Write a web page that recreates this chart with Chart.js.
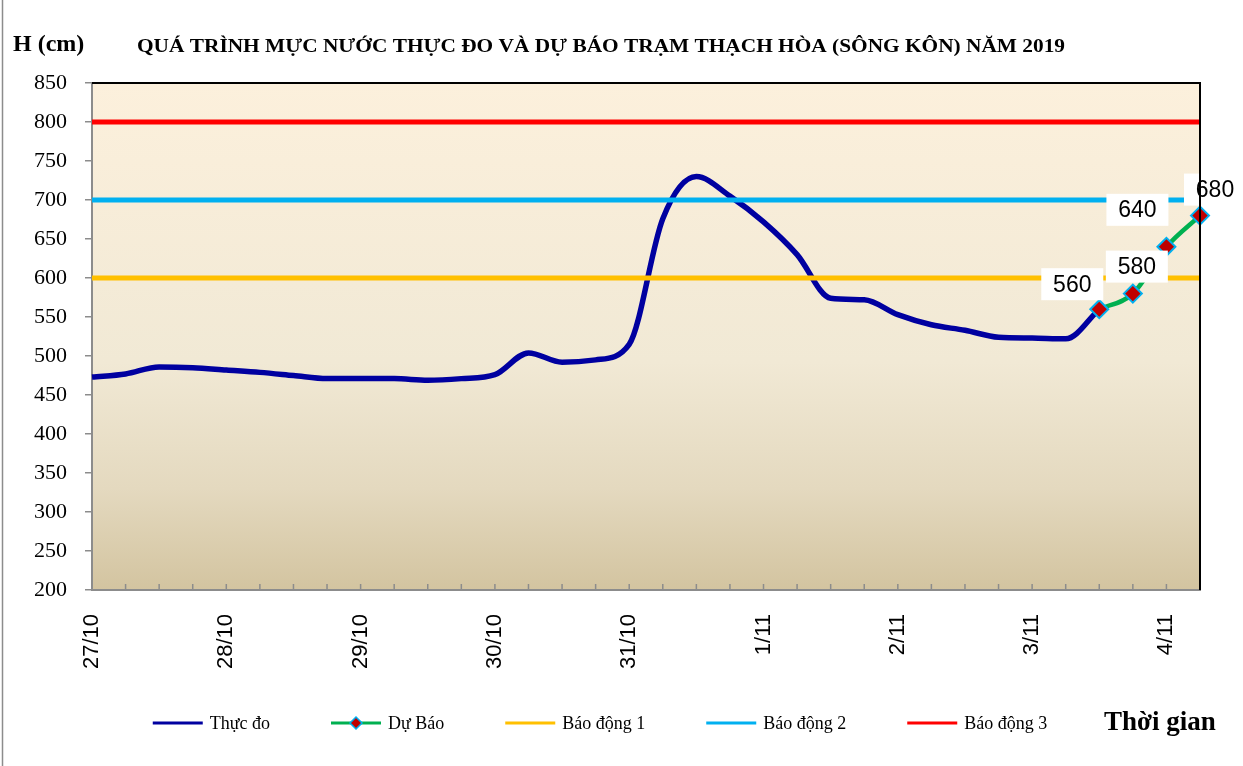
<!DOCTYPE html>
<html>
<head>
<meta charset="utf-8">
<script src="https://cdn.jsdelivr.net/npm/chart.js@4.4.0/dist/chart.umd.min.js"></script>
<style>
  html, body { margin: 0; padding: 0; background: #fff; }
  #wrap { position: relative; width: 1243px; height: 766px; }
</style>
</head>
<body>
<div id="wrap"><canvas id="mucNuocChart" width="1243" height="766"></canvas></div>
<script>
// 6-hourly time steps, 27/10 00h -> 4/11 06h
const timeLabels = [
  "27/10 0h", "27/10 6h", "27/10 12h", "27/10 18h",
  "28/10 0h", "28/10 6h", "28/10 12h", "28/10 18h",
  "29/10 0h", "29/10 6h", "29/10 12h", "29/10 18h",
  "30/10 0h", "30/10 6h", "30/10 12h", "30/10 18h",
  "31/10 0h", "31/10 6h", "31/10 12h", "31/10 18h",
  "1/11 0h", "1/11 6h", "1/11 12h", "1/11 18h",
  "2/11 0h", "2/11 6h", "2/11 12h", "2/11 18h",
  "3/11 0h", "3/11 6h", "3/11 12h", "3/11 18h",
  "4/11 0h", "4/11 6h"
];

const thucDo = [
  473, 477, 486, 485, 482, 479, 475, 471,
  471, 471, 469, 471, 476, 504, 492, 495,
  515, 676, 730, 705, 672, 630, 574, 572,
  553, 540, 533, 524, 523, 522, 560, null,
  null, null
];

const duBao = [
  null, null, null, null, null, null, null, null,
  null, null, null, null, null, null, null, null,
  null, null, null, null, null, null, null, null,
  null, null, null, null, null, null, 560, 580,
  640, 680
];

const baoDong1 = 600;
const baoDong2 = 700;
const baoDong3 = 800;

const yTicks = { min: 200, max: 850, step: 50 };

const firstLabel = timeLabels[0];
const lastLabel = timeLabels[timeLabels.length - 1];

const plotBackground = {
  id: "plotBackground",
  beforeDraw(chart) {
    const { ctx, chartArea: a, width, height } = chart;
    ctx.save();
    ctx.fillStyle = "#ffffff";
    ctx.fillRect(0, 0, width, height);
    let grad = ctx.createLinearGradient(0, a.top, 0, a.bottom);
    grad.addColorStop(0, "#FCF0DC");
    grad.addColorStop(0.55, "#F1E9D5");
    grad.addColorStop(0.8, "#E4D9BF");
    grad.addColorStop(1, "#D3C4A0");
    ctx.fillStyle = grad;
    ctx.fillRect(a.left, a.top, a.right - a.left, a.bottom - a.top);
    // outer frame (left edge visible)
    ctx.strokeStyle = "#8c8c8c";
    ctx.lineWidth = 1.5;
    ctx.beginPath();
    ctx.moveTo(2.5, 0);
    ctx.lineTo(2.5, height);
    ctx.stroke();
    ctx.restore();
  },
  afterDraw(chart) {
    const { ctx, chartArea: a, scales } = chart;
    ctx.save();
    // black top & right border of plot area
    ctx.strokeStyle = "#000000";
    ctx.lineWidth = 2;
    ctx.beginPath();
    ctx.moveTo(a.left, a.top);
    ctx.lineTo(a.right, a.top);
    ctx.lineTo(a.right, a.bottom);
    ctx.stroke();
    // x tick marks pointing inside
    ctx.strokeStyle = "#8c8c8c";
    ctx.lineWidth = 1.5;
    ctx.beginPath();
    for (let i = 1; i < timeLabels.length - 1; i++) {
      let x = scales.x.getPixelForValue(i);
      ctx.moveTo(x, a.bottom);
      ctx.lineTo(x, a.bottom - 6);
    }
    ctx.stroke();
    ctx.restore();
  },
};

const valueLabels = {
  id: "valueLabels",
  afterDatasetsDraw(chart, args, opts) {
    const { ctx } = chart;
    const meta = chart.getDatasetMeta(opts.datasetIndex);
    ctx.save();
    ctx.font = '23px "Liberation Sans"';
    ctx.textAlign = "center";
    ctx.textBaseline = "middle";
    let k = 0;
    meta.data.forEach((pt, i) => {
      let v = chart.data.datasets[opts.datasetIndex].data[i];
      if (v === null) return;
      let off = opts.offsets[k++] || [0, -25];
      let cx = pt.x + off[0];
      let cy = pt.y + off[1];
      ctx.fillStyle = "#ffffff";
      ctx.fillRect(cx - 31, cy - 16, 62, 32);
      ctx.fillStyle = "#000000";
      ctx.fillText(String(v), cx, cy + 1);
    });
    ctx.restore();
  },
};

const legendSymbol = (ctx, ds, x, y) => {
  ctx.strokeStyle = ds.borderColor;
  ctx.lineWidth = 3;
  ctx.beginPath();
  ctx.moveTo(x, y);
  ctx.lineTo(x + 50, y);
  ctx.stroke();
  if (ds.pointRadius > 0) {
    let r = 6;
    let cx = x + 25;
    ctx.beginPath();
    ctx.moveTo(cx, y - r);
    ctx.lineTo(cx + r, y);
    ctx.lineTo(cx, y + r);
    ctx.lineTo(cx - r, y);
    ctx.closePath();
    ctx.fillStyle = ds.pointBackgroundColor;
    ctx.fill();
    ctx.strokeStyle = ds.pointBorderColor;
    ctx.lineWidth = 1.5;
    ctx.stroke();
  }
};

const titlesAndLegend = {
  id: "titlesAndLegend",
  afterDraw(chart) {
    const { ctx } = chart;
    ctx.save();
    ctx.fillStyle = "#000000";
    ctx.textBaseline = "alphabetic";
    ctx.textAlign = "left";
    ctx.font = 'bold 24px "Liberation Serif"';
    ctx.fillText("H (cm)", 13, 51);

    let title = "QUÁ TRÌNH MỰC NƯỚC THỰC ĐO VÀ DỰ BÁO TRẠM THẠCH HÒA (SÔNG KÔN) NĂM 2019";
    ctx.font = 'bold 18px "Liberation Serif"';
    let tw = ctx.measureText(title).width;
    ctx.save();
    ctx.translate(137, 52);
    ctx.scale(928 / tw, 1);
    ctx.fillText(title, 0, 0);
    ctx.restore();

    // legend row
    ctx.font = '18px "Liberation Serif"';
    const items = chart.data.datasets;
    let widths = items.map((d) => 50 + 7 + ctx.measureText(d.label).width);
    let total = widths.reduce((s, w) => s + w, 0) + 61 * (items.length - 1);
    let x = 600 - total / 2;
    let y = 723;
    ctx.textBaseline = "middle";
    items.forEach((ds, i) => {
      legendSymbol(ctx, ds, x, y);
      ctx.fillStyle = "#000000";
      ctx.fillText(ds.label, x + 57, y + 1);
      x += widths[i] + 61;
    });

    ctx.font = 'bold 27px "Liberation Serif"';
    ctx.textBaseline = "alphabetic";
    ctx.fillText("Thời gian", 1104, 730);
    ctx.restore();
  },
};

const ctx = document.getElementById("mucNuocChart").getContext("2d");

window.mucNuocChart = new Chart(ctx, {
  type: "line",
  data: {
    labels: timeLabels,
    datasets: [
      {
        label: "Thực đo",
        data: thucDo,
        borderColor: "#0000A0",
        borderWidth: 5.5,
        pointRadius: 0,
        cubicInterpolationMode: "monotone",
        order: 5,
      },
      {
        label: "Dự Báo",
        data: duBao,
        borderColor: "#00B050",
        borderWidth: 4.5,
        pointStyle: "rectRot",
        pointRadius: 9,
        pointBackgroundColor: "#C00000",
        pointBorderColor: "#00B0F0",
        pointBorderWidth: 2,
        cubicInterpolationMode: "monotone",
        order: 0,
      },
      {
        label: "Báo động 1",
        data: [{ x: firstLabel, y: baoDong1 }, { x: lastLabel, y: baoDong1 }],
        borderColor: "#FFC000",
        borderWidth: 5,
        pointRadius: 0,
        order: 3,
      },
      {
        label: "Báo động 2",
        data: [{ x: firstLabel, y: baoDong2 }, { x: lastLabel, y: baoDong2 }],
        borderColor: "#00B0F0",
        borderWidth: 5,
        pointRadius: 0,
        order: 2,
      },
      {
        label: "Báo động 3",
        data: [{ x: firstLabel, y: baoDong3 }, { x: lastLabel, y: baoDong3 }],
        borderColor: "#FF0000",
        borderWidth: 5,
        pointRadius: 0,
        order: 1,
      },
    ],
  },
  options: {
    responsive: false,
    animation: false,
    maintainAspectRatio: false,
    layout: {
      padding: { top: 83, right: 43, left: 0, bottom: 0 },
    },
    plugins: {
      legend: { display: false },
      title: { display: false },
      tooltip: { enabled: false },
      valueLabels: {
        datasetIndex: 1,
        offsets: [[-27, -25], [4, -27], [-29, -37], [15, -26]],
      },
    },
    scales: {
      x: {
        type: "category",
        offset: false,
        afterFit: (scale) => {
          scale.height = 176;
          scale.paddingLeft = 0;
          scale.paddingRight = 0;
        },
        grid: {
          drawOnChartArea: false,
          drawTicks: false,
        },
        border: { color: "#8c8c8c", width: 2 },
        ticks: {
          autoSkip: false,
          maxRotation: 90,
          minRotation: 90,
          padding: 24,
          color: "#000000",
          font: { family: "Liberation Sans", size: 22 },
          callback: (val, i) => {
            let l = timeLabels[i];
            return l.endsWith(" 0h") ? l.split(" ")[0] : "";
          },
        },
      },
      y: {
        min: yTicks.min,
        max: yTicks.max,
        afterFit: (scale) => {
          scale.width = 92;
        },
        grid: {
          drawOnChartArea: false,
          drawTicks: true,
          tickLength: 7,
          color: "#8c8c8c",
          lineWidth: 1.5,
        },
        border: { color: "#8c8c8c", width: 2 },
        ticks: {
          stepSize: yTicks.step,
          padding: 18,
          color: "#000000",
          font: { family: "Liberation Serif", size: 22 },
        },
      },
    },
  },
  plugins: [plotBackground, valueLabels, titlesAndLegend],
});
</script>
</body>
</html>
